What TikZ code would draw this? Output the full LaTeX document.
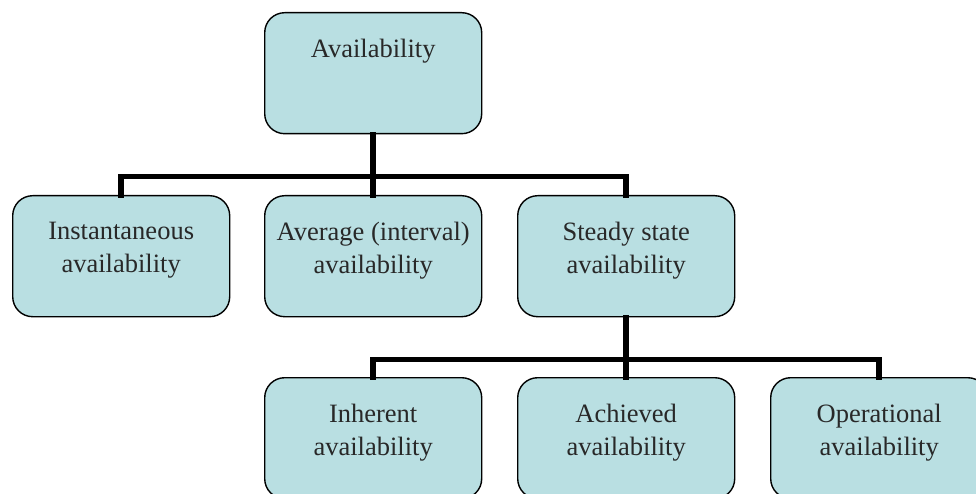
\documentclass[tikz,border=0pt]{standalone}
\usepackage{fontspec}
\setmainfont{Liberation Serif}
\usetikzlibrary{calc}
\definecolor{boxfill}{RGB}{185,223,226}
\definecolor{txt}{RGB}{40,40,40}
\begin{document}
\begin{tikzpicture}[x=1pt,y=-1pt,
  box/.style={draw=black,fill=boxfill,line width=1.4pt,rounded corners=20pt,
    minimum width=217pt,minimum height=121pt,inner sep=0pt,anchor=north west},
  lbl/.style={anchor=north,inner sep=0pt,align=center,text=txt,
    font=\fontsize{26.5}{33}\selectfont},
  conn/.style={line width=5.5pt,line join=miter,line cap=rect}]
\useasboundingbox (0,0) rectangle (976,494);
\clip (0,0) rectangle (976,494);
% boxes
\node[box] (top) at (264,12) {};
\node[box] (b1) at (12,195) {};
\node[box] (b2) at (264,195) {};
\node[box] (b3) at (517,195) {};
\node[box] (c1) at (264,377) {};
\node[box] (c2) at (517,377) {};
\node[box] (c3) at (770,377) {};
% labels
\node[lbl] (ttop) at ($(top.north)+(0,27)$) {Availability};
\node[lbl] (tb1) at ($(b1.north)+(0,27)$) {Instantaneous\\availability};
\node[lbl] (tb2) at ($(b2.north)+(0,27)$) {Average (interval)\\availability};
\node[lbl] (tb3) at ($(b3.north)+(0,27)$) {Steady state\\availability};
\node[lbl] (tc1) at ($(c1.north)+(0,27)$) {Inherent\\availability};
\node[lbl] (tc2) at ($(c2.north)+(0,27)$) {Achieved\\availability};
\node[lbl] (tc3) at ($(c3.north)+(0,27)$) {Operational\\availability};
% connectors
\coordinate (j1) at ($(top.south)+(0,42)$);
\coordinate (j2) at ($(b3.south)+(0,42)$);
\draw[conn] (top.south) -- (j1) -- (b2.north);
\draw[conn] (b1.north) |- (j1) -| (b3.north);
\draw[conn] (b3.south) -- (j2) -- (c2.north);
\draw[conn] (c1.north) |- (j2) -| (c3.north);
\end{tikzpicture}
\end{document}
